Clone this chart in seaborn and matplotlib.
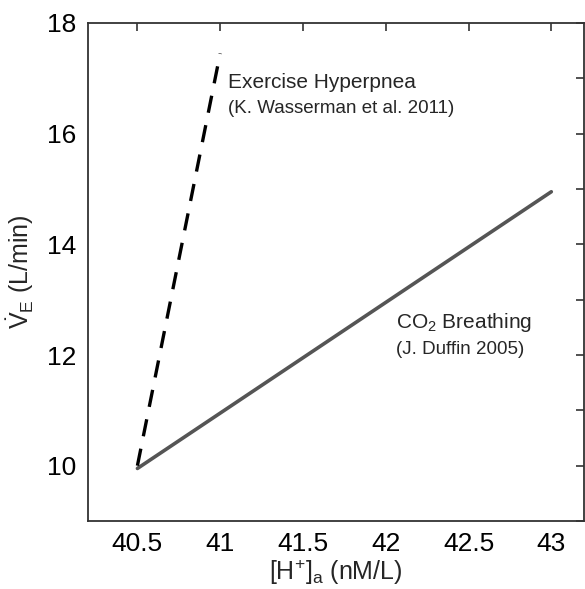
import matplotlib
matplotlib.use("Agg")
import matplotlib.pyplot as plt
import seaborn as sns
import pandas as pd

exercise_h = [40.5, 41.0]
exercise_ve = [10.0, 17.45]
co2_h = [40.5, 43.0]
co2_ve = [9.95, 14.95]

xticks = [40.5, 41, 41.5, 42, 42.5, 43]
xtick_labels = ["40.5", "41", "41.5", "42", "42.5", "43"]
yticks = [10, 12, 14, 16, 18]
yminor = [9, 11, 13, 15, 17]

sns.set_theme(style="white")
plt.rcParams['font.family'] = ['Liberation Sans', 'DejaVu Sans']
plt.rcParams['mathtext.fontset'] = 'custom'
plt.rcParams['mathtext.rm'] = 'Liberation Sans'
plt.rcParams['mathtext.it'] = 'Liberation Sans'

fig = plt.figure(figsize=(5.85, 5.89), dpi=100)
ax = fig.add_axes([0.150, 0.1154, 0.849, 0.8456])

df_ex = pd.DataFrame({"h": exercise_h, "ve": exercise_ve})
df_co = pd.DataFrame({"h": co2_h, "ve": co2_ve})
sns.lineplot(data=df_co, x="h", y="ve", ax=ax, color="#555555", linewidth=2.6)
sns.lineplot(data=df_ex, x="h", y="ve", ax=ax, color="black", linewidth=2.4,
             linestyle=(0, (5.2, 3.8)))

ax.set_xlim(40.2, 43.2)
ax.set_ylim(9, 18)
ax.set_xticks(xticks)
ax.set_xticklabels(xtick_labels)
ax.set_yticks(yticks)
ax.set_yticks(yminor, minor=True)
ax.tick_params(axis="both", which="both", direction="in", top=True, right=True,
               length=6, width=1.2, color="#333333", labelsize=19, pad=8,
               labelcolor="black")
ax.tick_params(axis="both", which="minor", labelleft=False)
for s in ax.spines.values():
    s.set_color("#333333")
    s.set_linewidth(1.3)

ax.set_xlabel(r"[H$^{+}$]$_{\mathrm{a}}$ (nM/L)", fontsize=18, labelpad=1)
ax.set_ylabel(r"$\dot{\mathrm{V}}_{\mathrm{E}}$ (L/min)", fontsize=18, labelpad=8)

ax.text(41.05, 16.75, "Exercise Hyperpnea", fontsize=15, ha="left", va="bottom")
ax.text(41.05, 16.6, "(K. Wasserman et al. 2011)", fontsize=13.5, ha="left", va="top")
ax.text(42.06, 12.38, r"CO$_2$ Breathing", fontsize=15, ha="left", va="bottom")
ax.text(42.06, 12.25, "(J. Duffin 2005)", fontsize=13.5, ha="left", va="top")

fig.savefig("out.png", dpi=100)
